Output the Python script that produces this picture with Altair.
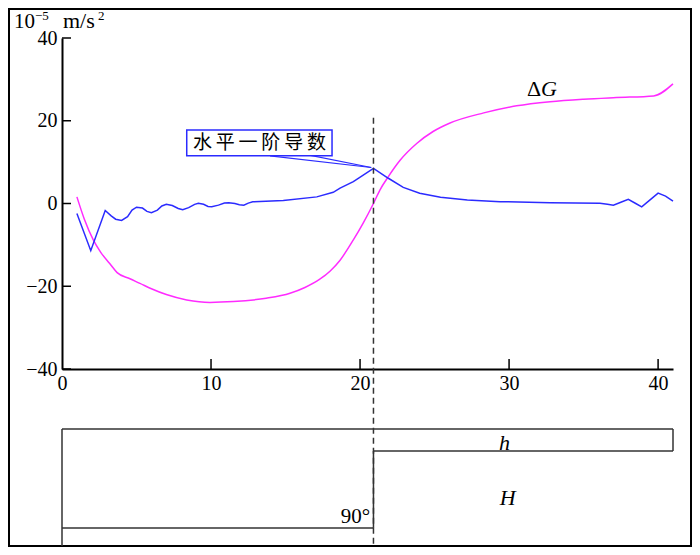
import altair as alt
import pandas as pd

# ---------------- data ----------------
x_ticks = [0, 10, 20, 30, 40]
y_ticks = [-40, -20, 0, 20, 40]

# horizontal first derivative (blue)
blue_x = [1.0, 1.93, 2.9, 3.3, 3.6, 4.0, 4.4, 4.7, 5.0, 5.4, 5.7, 6.0, 6.4, 6.7, 7.0,
          7.4, 7.8, 8.1, 8.5, 8.9, 9.15, 9.5, 9.8, 10.05, 10.5, 10.9, 11.2, 11.6, 11.9,
          12.2, 12.5, 12.8, 14.85, 17.1, 18.2, 18.66, 19.55, 20.9, 21.9, 22.9, 24.0,
          25.4, 27.2, 29.4, 32.75, 36.1, 36.6, 37.0, 37.5, 38.0, 38.5, 38.9, 39.5,
          40.0, 40.5, 41.0]
blue_y = [-2.4, -11.4, -1.7, -3.0, -3.8, -4.1, -3.2, -1.6, -0.9, -1.1, -1.9, -2.2, -1.6,
          -0.6, -0.2, -0.5, -1.2, -1.5, -1.0, -0.2, 0.05, -0.2, -0.7, -0.8, -0.4, 0.1,
          0.2, 0.0, -0.3, -0.4, 0.1, 0.4, 0.7, 1.6, 2.7, 3.7, 5.3, 8.5, 6.1, 3.9, 2.5,
          1.5, 0.85, 0.45, 0.2, 0.05, -0.2, -0.4, 0.3, 1.0, 0.0, -0.8, 1.0, 2.5, 1.8, 0.6]

# gravity anomaly ΔG (magenta)
mag_x = [1.0, 1.5, 2.1, 2.6, 3.2, 3.7, 4.56, 5.23, 6.0, 7.0, 8.37, 9.93, 11.5, 13.7,
         15.3, 16.3, 17.3, 18.0, 18.66, 19.55, 20.2, 20.9, 21.34, 21.9, 22.7, 23.8,
         24.9, 26.0, 28.3, 30.5, 32.75, 35.0, 37.2, 39.7, 41.0]
mag_y = [1.6, -3.8, -8.8, -11.8, -14.5, -16.7, -18.2, -19.3, -20.6, -22.0, -23.3, -23.9,
         -23.7, -22.9, -21.7, -20.3, -18.3, -16.3, -13.7, -8.8, -4.8, 0.0, 3.3, 6.5,
         10.5, 14.5, 17.4, 19.4, 21.9, 23.6, 24.6, 25.2, 25.6, 26.0, 28.9]

step_x = 20.9           # position of the vertical contact
# model sketch below the profile (same x units, depth in extended y units)
sk_x1 = [0, 41, step_x, step_x, 0, 0]
sk_x2 = [41, 41, 41, step_x, step_x, 0]
sk_y1 = [-54.5, -54.5, -59.8, -59.8, -78.4, -54.5]
sk_y2 = [-54.5, -59.8, -59.8, -78.4, -78.4, -82.8]

# unit label pieces
unit_parts = ["10", "−5", "m/s", "2"]

W, H = 611, 331
SERIF = "Liberation Serif"
BLUE = "#2b2bff"
MAG = "#ff2bff"

XS = alt.Scale(domain=[0, 41], nice=False, zero=False)
YS = alt.Scale(domain=[-40, 40], nice=False, zero=False)

x_axis = alt.Axis(values=x_ticks, ticks=False, domainColor="black", domainWidth=2,
                  labelFont=SERIF, labelFontSize=20, labelColor="black", labelPadding=4,
                  grid=False, title=None, labelFlush=False)
y_axis = alt.Axis(values=y_ticks, ticks=False, domainColor="black", domainWidth=2,
                  labelFont=SERIF, labelFontSize=20, labelColor="black", labelPadding=5,
                  grid=False, title=None)


def X(f="x"):
    return alt.X(f"{f}:Q", scale=XS, axis=x_axis)


def Y(f="y"):
    return alt.Y(f"{f}:Q", scale=YS, axis=y_axis)


blue_df = pd.DataFrame({"x": blue_x, "y": blue_y})
mag_df = pd.DataFrame({"x": mag_x, "y": mag_y})

mag_line = alt.Chart(mag_df).mark_line(color=MAG, strokeWidth=1.5, interpolate="monotone").encode(
    x=X(), y=Y())
blue_line = alt.Chart(blue_df).mark_line(color=BLUE, strokeWidth=1.5).encode(x=X(), y=Y())

ytk = alt.Chart(pd.DataFrame({"y": y_ticks})).mark_rule(color="black", strokeWidth=1.5).encode(
    y=Y(), x=alt.value(0), x2=alt.value(9))
xtk = alt.Chart(pd.DataFrame({"x": x_ticks[1:]})).mark_rule(color="black", strokeWidth=1.5).encode(
    x=X(), y=alt.value(H), y2=alt.value(H - 10))

dash = alt.Chart(pd.DataFrame({"x": [step_x], "y": [20.7], "y2": [-82.8]})).mark_rule(
    color="#333333", strokeWidth=1.5, strokeDash=[6, 4]).encode(x=X(), y=Y(), y2="y2:Q")

sketch = alt.Chart(pd.DataFrame({"x": sk_x1, "x2": sk_x2, "y": sk_y1, "y2": sk_y2})).mark_rule(
    color="#333333", strokeWidth=1.5).encode(x=X(), x2="x2:Q", y=Y(), y2="y2:Q")

leader = alt.Chart(pd.DataFrame({"x": [13.96, 16.17], "x2": [20.75, 20.75],
                                 "y": [11.5, 12.0], "y2": [8.7, 8.7]})).mark_rule(
    color=BLUE, strokeWidth=1.2).encode(x=X(), x2="x2:Q", y=Y(), y2="y2:Q")

box = alt.Chart(pd.DataFrame({"x": [8.37], "x2": [18.12], "y": [17.76], "y2": [11.55]})).mark_rect(
    fill="white", stroke=BLUE, strokeWidth=1.5).encode(x=X(), x2="x2:Q", y=Y(), y2="y2:Q")

box_text = alt.Chart(pd.DataFrame({"x": [13.25], "y": [14.6], "t": ["水\u2009平\u2009一\u2009阶\u2009导\u2009数"]})).mark_text(
    font="Noto Sans CJK SC", fontSize=19, color="black", align="center", baseline="middle").encode(
    x=X(), y=Y(), text="t:N")

delta = alt.Chart(pd.DataFrame({"x": [32.15], "y": [26.0], "t": ["Δ"]})).mark_text(
    font=SERIF, fontSize=22, color="black", align="right", baseline="alphabetic").encode(
    x=X(), y=Y(), text="t:N")
g_txt = alt.Chart(pd.DataFrame({"x": [32.15], "y": [26.0], "t": ["G"]})).mark_text(
    font=SERIF, fontSize=22, fontStyle="italic", color="black", align="left",
    baseline="alphabetic").encode(x=X(), y=Y(), text="t:N")

ital = alt.Chart(pd.DataFrame({"x": [29.7, 29.9], "y": [-59.5, -72.9], "t": ["h", "H"]})).mark_text(
    font=SERIF, fontSize=22, fontStyle="italic", color="black", align="center",
    baseline="alphabetic").encode(x=X(), y=Y(), text="t:N")
angle_txt = alt.Chart(pd.DataFrame({"x": [20.67], "y": [-77.2], "t": ["90°"]})).mark_text(
    font=SERIF, fontSize=21, color="black", align="right", baseline="alphabetic").encode(
    x=X(), y=Y(), text="t:N")


def unit_piece(txt, size, px, py):
    return alt.Chart(pd.DataFrame({"t": [txt]})).mark_text(
        font=SERIF, fontSize=size, color="black", align="left", baseline="alphabetic").encode(
        text="t:N", x=alt.value(px), y=alt.value(py))


unit = [unit_piece(unit_parts[0], 21, -48, -10),
        unit_piece(unit_parts[1], 13, -27, -18),
        unit_piece(unit_parts[2], 22, 1, -10),
        unit_piece(unit_parts[3], 13, 36, -18)]

frame = alt.Chart(pd.DataFrame({"a": [0]})).mark_rect(
    fillOpacity=0, stroke="black", strokeWidth=2).encode(
    x=alt.value(-53), x2=alt.value(629), y=alt.value(-29), y2=alt.value(508))

chart = alt.layer(
    mag_line, blue_line, frame, sketch, dash, ytk, xtk, leader, box, box_text,
    delta, g_txt, ital, angle_txt, *unit
).properties(width=W, height=H, padding=0).configure_view(stroke=None)

chart.save("out.html", embed_options={"renderer": "svg", "actions": False})
